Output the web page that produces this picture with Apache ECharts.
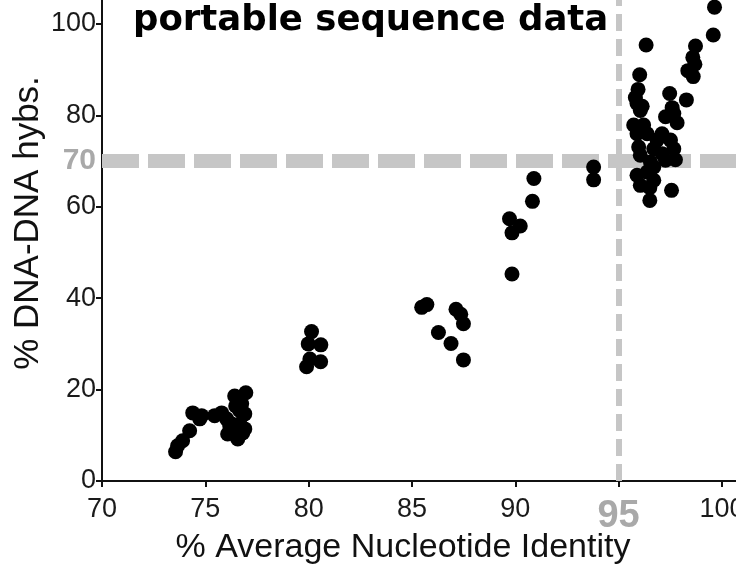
<!DOCTYPE html>
<html>
<head>
<meta charset="utf-8">
<script src="https://cdn.jsdelivr.net/npm/echarts@6/dist/echarts.min.js"></script>
<style>
html,body{margin:0;padding:0;background:#fff;overflow:hidden;}
#chart{width:736px;height:567px;}
</style>
</head>
<body>
<div id="chart"></div>
<script>
// % Average Nucleotide Identity (x) and % DNA-DNA hybridisation (y)
const aniValues = [
  73.56,73.66,73.90,74.24,74.39,74.73,74.82,75.45,75.79,76.03,76.42,76.96,76.76,76.91,76.28,76.67,76.91,76.08,76.57,76.81,76.33,76.67,76.47,76.18,
  80.14,79.98,80.59,80.06,80.58,79.90,
  85.47,85.72,87.13,87.36,87.49,86.28,86.89,87.49,
  90.90,90.83,89.72,90.24,89.84,89.84,
  93.79,93.79,
  99.64,99.58,96.33,98.72,98.59,98.69,98.35,98.61,96.02,95.94,95.81,97.47,98.28,97.59,96.14,95.89,96.05,97.27,97.67,97.83,95.73,96.21,95.89,96.38,97.10,97.51,96.86,95.97,96.70,97.67,96.05,97.11,96.54,97.27,97.75,96.70,95.89,96.38,96.70,96.05,96.51,97.56,96.51
];
const ddhValues = [
  6.4,7.7,8.8,11.0,14.9,13.6,14.3,14.3,14.9,13.6,18.6,19.3,16.9,14.7,12.5,12.5,11.4,10.3,9.2,10.5,11.4,15.4,16.4,12.1,
  32.7,30.0,29.8,26.7,26.1,25.0,
  38.0,38.6,37.6,36.5,34.4,32.5,30.1,26.5,
  66.2,61.2,57.4,55.8,54.3,45.3,
  68.7,65.9,
  103.7,97.6,95.4,95.2,92.7,91.2,89.8,88.5,88.9,85.7,83.9,84.8,83.4,81.7,82.0,82.6,81.1,79.7,80.4,78.4,77.9,77.9,76.0,76.0,76.0,74.6,74.6,73.1,72.7,72.7,71.3,71.6,69.8,70.2,70.3,68.7,66.9,67.6,65.8,64.7,64.2,63.6,61.4
];
const xTickValues = [70, 75, 80, 85, 90, 95, 100];
const xLabelValues = [70, 75, 80, 85, 90, 100];
const yTickValues = [0, 20, 40, 60, 80, 100];
const aniCutoff = 95;
const ddhCutoff = 70;
const xRange = [70, 100.68];
const yRange = [0, 105.26];
const titleText = 'portable sequence data';
const xAxisTitle = '% Average Nucleotide Identity';
const yAxisTitle = '% DNA-DNA hybs.';

const points = aniValues.map((x, i) => [x, ddhValues[i]]);
const cutoffColor = '#c6c6c6';
const cutoffLabelColor = '#a9a9a9';

const chart = echarts.init(document.getElementById('chart'), null, {renderer: 'canvas'});
const option = {
  backgroundColor: '#ffffff',
  animation: false,
  grid: {left: 102, right: 0, top: 0, bottom: 86, containLabel: false, outerBoundsMode: 'none'},
  xAxis: {
    type: 'value', min: xRange[0], max: xRange[1],
    splitLine: {show: false},
    axisLine: {show: true, onZero: false, lineStyle: {color: '#111', width: 2}},
    axisTick: {show: true, length: 6, lineStyle: {color: '#111', width: 2}, customValues: xTickValues},
    axisLabel: {customValues: xLabelValues, color: '#1a1a1a', fontSize: 27, fontFamily: 'Liberation Sans, Arial, sans-serif', margin: 15}
  },
  yAxis: {
    type: 'value', min: yRange[0], max: yRange[1],
    splitLine: {show: false},
    axisLine: {show: true, onZero: false, lineStyle: {color: '#111', width: 2}},
    axisTick: {show: true, length: 6, lineStyle: {color: '#111', width: 2}, customValues: yTickValues},
    axisLabel: {customValues: yTickValues, color: '#1a1a1a', fontSize: 27, fontFamily: 'Liberation Sans, Arial, sans-serif', margin: 6}
  },
  series: [
    {
      type: 'scatter', data: [], z: 1, silent: true,
      markLine: {
        silent: true, symbol: ['none', 'none'], animation: false, z: 1,
        data: [
          [
            {coord: [xRange[0], ddhCutoff], lineStyle: {color: cutoffColor, width: 14, type: [37, 9]},
             label: {show: true, position: 'start', formatter: String(ddhCutoff), color: cutoffLabelColor, fontSize: 30, fontWeight: 'bold', fontFamily: 'Liberation Sans, Arial, sans-serif', distance: 6}},
            {coord: [xRange[1], ddhCutoff]}
          ],
          [
            {coord: [aniCutoff, yRange[0]], lineStyle: {color: cutoffColor, width: 6, type: [17, 8]},
             label: {show: true, position: 'start', formatter: String(aniCutoff), color: cutoffLabelColor, fontSize: 38, fontWeight: 'bold', fontFamily: '"Liberation Sans Narrow", "Liberation Sans", Arial, sans-serif', distance: 17}},
            {coord: [aniCutoff, yRange[1]]}
          ]
        ]
      }
    },
    {
      type: 'scatter', z: 3, data: points, symbol: 'circle', symbolSize: 15,
      itemStyle: {color: '#000', opacity: 1}
    }
  ],
  graphic: [
    {type: 'text', left: 133, top: 3, z: 10, style: {text: titleText, fill: '#000', font: 'bold 35.5px "Comic Sans MS", "DejaVu Sans", sans-serif'}},
    {type: 'text', x: 403, y: 548, z: 10, style: {text: xAxisTitle, fill: '#111', font: '34px "Liberation Sans", Arial, sans-serif', align: 'center', verticalAlign: 'middle'}},
    {type: 'text', x: 28, y: 223, rotation: Math.PI / 2, z: 10, style: {text: yAxisTitle, fill: '#111', font: '35px "Liberation Sans", Arial, sans-serif', align: 'center', verticalAlign: 'middle'}}
  ]
};
chart.setOption(option);
</script>
</body>
</html>
